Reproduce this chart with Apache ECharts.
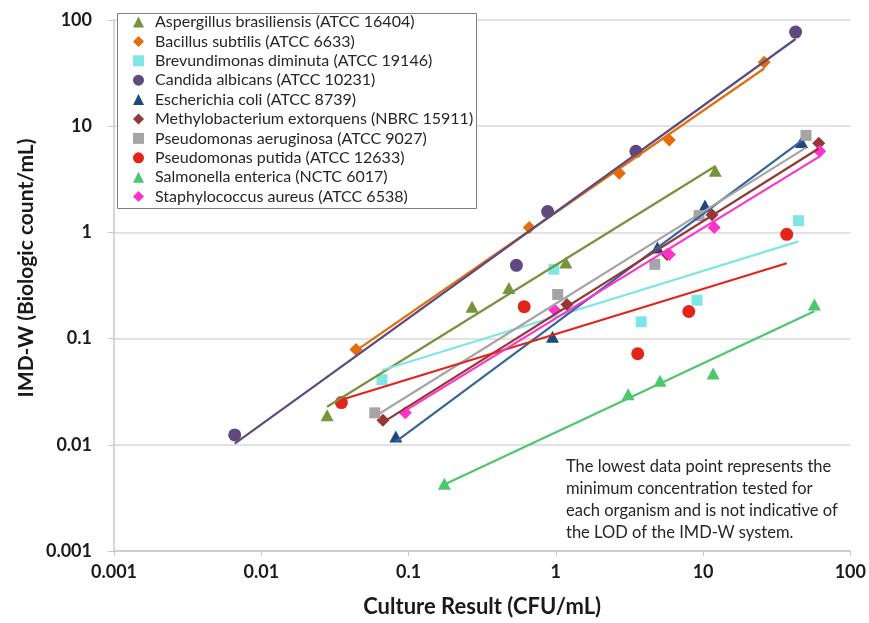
<!DOCTYPE html>
<html lang="en" style="height: 100%">
<head>
  <meta charset="utf-8">
</head>
<body style="height: 100%; margin: 0; background: #fff">
  <div id="container" style="width: 869px; height: 623px"></div>

  <script type="text/javascript" src="https://cdn.jsdelivr.net/npm/echarts@6/dist/echarts.min.js"></script>

  <script type="text/javascript">
    // tick labels for both log axes
    const xTickLabels = ['0.001', '0.01', '0.1', '1', '10', '100'];
    const yTickLabels = ['0.001', '0.01', '0.1', '1', '10', '100'];

    // [culture result CFU/mL, IMD-W biologic count/mL]
    const aspergillus = [[0.028, 0.019], [0.27, 0.2], [0.48, 0.3], [1.17, 0.52], [12.1, 3.8]];
    const bacillus = [[0.044, 0.079], [0.66, 1.11], [2.7, 3.6], [5.9, 7.4], [26, 40]];
    const brevundimonas = [[0.066, 0.041], [0.97, 0.45], [3.8, 0.144], [9.1, 0.23], [44.5, 1.29]];
    const candida = [[0.0066, 0.0124], [0.54, 0.49], [0.88, 1.57], [3.5, 5.8], [42.5, 77]];
    const ecoli = [[0.082, 0.012], [0.95, 0.104], [4.9, 0.72], [10.3, 1.79], [46.6, 7.1]];
    const methylobacterium = [[0.067, 0.017], [1.19, 0.21], [5.7, 0.62], [11.5, 1.47], [61, 6.9]];
    const aeruginosa = [[0.059, 0.02], [1.03, 0.26], [4.7, 0.5], [9.4, 1.44], [50, 8.2]];
    const putida = [[0.035, 0.025], [0.61, 0.2], [3.6, 0.072], [8.0, 0.18], [37, 0.96]];
    const salmonella = [[0.175, 0.0043], [3.1, 0.03], [5.1, 0.04], [11.7, 0.047], [57, 0.21]];
    const staphylococcus = [[0.095, 0.02], [0.98, 0.187], [5.9, 0.62], [11.9, 1.11], [62, 5.8]];

    const noteLines = [
      'The lowest data point represents the',
      'minimum concentration tested for',
      'each organism and is not indicative of',
      'the LOD of the IMD-W system.'
    ];

    const organisms = [
      { name: 'Aspergillus brasiliensis (ATCC 16404)', data: aspergillus, symbol: 'triangle', color: '#77933C', line: '#77933C' },
      { name: 'Bacillus subtilis (ATCC 6633)', data: bacillus, symbol: 'diamond', color: '#E46C0A', line: '#E46C0A' },
      { name: 'Brevundimonas diminuta (ATCC 19146)', data: brevundimonas, symbol: 'rect', color: '#7FE6E6', line: '#7FE6E6' },
      { name: 'Candida albicans (ATCC 10231)', data: candida, symbol: 'circle', color: '#5F4A80', line: '#5F4A80' },
      { name: 'Escherichia coli (ATCC 8739)', data: ecoli, symbol: 'triangle', color: '#1F497D', line: '#3465A0' },
      { name: 'Methylobacterium extorquens (NBRC 15911)', data: methylobacterium, symbol: 'diamond', color: '#953735', line: '#953735' },
      { name: 'Pseudomonas aeruginosa (ATCC 9027)', data: aeruginosa, symbol: 'rect', color: '#A5A5A5', line: '#A5A5A5' },
      { name: 'Pseudomonas putida (ATCC 12633)', data: putida, symbol: 'circle', color: '#E3241B', line: '#E3241B' },
      { name: 'Salmonella enterica (NCTC 6017)', data: salmonella, symbol: 'triangle', color: '#4CC86C', line: '#4CC86C' },
      { name: 'Staphylococcus aureus (ATCC 6538)', data: staphylococcus, symbol: 'diamond', color: '#FF33CC', line: '#FF33CC' }
    ];

    const symbolSizes = { triangle: [13, 12], diamond: 13, rect: 11, circle: 13 };

    // power trendline (least squares in log-log), spanning the data's x range
    function powerTrend(pts) {
      const lx = pts.map(p => Math.log10(p[0]));
      const ly = pts.map(p => Math.log10(p[1]));
      const n = pts.length;
      const mx = lx.reduce((a, b) => a + b, 0) / n;
      const my = ly.reduce((a, b) => a + b, 0) / n;
      let sxy = 0, sxx = 0;
      for (let i = 0; i < n; i++) {
        sxy += (lx[i] - mx) * (ly[i] - my);
        sxx += (lx[i] - mx) * (lx[i] - mx);
      }
      const m = sxy / sxx;
      const b = my - m * mx;
      const x0 = Math.min(...lx), x1 = Math.max(...lx);
      return [[Math.pow(10, x0), Math.pow(10, b + m * x0)], [Math.pow(10, x1), Math.pow(10, b + m * x1)]];
    }

    const font = 'Lato, "Open Sans", sans-serif';

    const series = [];
    organisms.forEach(o => {
      series.push({
        name: o.name,
        type: 'scatter',
        data: o.data,
        symbol: o.symbol,
        symbolSize: symbolSizes[o.symbol],
        itemStyle: { color: o.color, opacity: 1 },
        z: 2,
        silent: true
      });
    });
    organisms.forEach(o => {
      series.push({
        name: o.name + ' trend',
        type: 'line',
        data: powerTrend(o.data),
        showSymbol: false,
        symbol: 'none',
        lineStyle: { color: o.line, width: 2.2 },
        z: 3,
        silent: true
      });
    });

    var dom = document.getElementById('container');
    var myChart = echarts.init(dom, null, { renderer: 'canvas' });

    var option = {
      animation: false,
      backgroundColor: '#ffffff',
      grid: { left: 114, right: 14, top: 20, bottom: 67, containLabel: false },
      xAxis: {
        type: 'log',
        logBase: 10,
        min: 0.001,
        max: 100,
        name: 'Culture Result (CFU/mL)',
        nameLocation: 'middle',
        nameGap: 45,
        nameTextStyle: { fontFamily: font, fontWeight: 'bold', fontSize: 22, color: '#1a1a1a' },
        axisLine: { show: true, lineStyle: { color: '#C8C8C8', width: 1.5 } },
        axisTick: { show: true, length: 5, lineStyle: { color: '#C8C8C8' } },
        splitLine: { show: false },
        axisLabel: {
          margin: 12,
          fontFamily: font, fontWeight: 'bold', fontSize: 18, color: '#1a1a1a',
          formatter: (v, i) => xTickLabels[i]
        }
      },
      yAxis: {
        type: 'log',
        logBase: 10,
        min: 0.001,
        max: 100,
        axisLine: { show: true, lineStyle: { color: '#C8C8C8', width: 1.5 } },
        axisTick: { show: true, length: 6, lineStyle: { color: '#C8C8C8' } },
        splitLine: { show: true, lineStyle: { color: '#D9D9D9', width: 1.5 } },
        axisLabel: {
          margin: 22,
          fontFamily: font, fontWeight: 'bold', fontSize: 18, color: '#1a1a1a',
          formatter: (v, i) => yTickLabels[i]
        }
      },
      legend: {
        data: organisms.map(o => o.name),
        orient: 'vertical',
        left: 133,
        top: 14,
        padding: 0,
        itemWidth: 11,
        itemHeight: 11,
        itemGap: 3.4,
        selectedMode: false,
        z: 6,
        textStyle: { fontFamily: font, fontSize: 16, color: '#262626', lineHeight: 16, padding: [0, 0, 0, 6] }
      },
      graphic: [
        {
          type: 'rect',
          z: 5,
          shape: { x: 117.5, y: 13.5, width: 359, height: 195 },
          style: { fill: '#ffffff', stroke: '#7F7F7F', lineWidth: 1 }
        },
        {
          type: 'text',
          z: 5,
          x: 26,
          y: 268,
          rotation: Math.PI / 2,
          style: {
            text: 'IMD-W (Biologic count/mL)',
            fontFamily: font, fontWeight: 'bold', fontSize: 21, fill: '#1a1a1a',
            align: 'center', verticalAlign: 'middle'
          }
        },
        {
          type: 'text',
          z: 5,
          left: 566,
          top: 456,
          style: {
            text: noteLines.join('\n'),
            fontFamily: font, fontSize: 16.5, fill: '#262626', lineHeight: 22
          }
        }
      ],
      series: series
    };

    myChart.setOption(option);
    window.addEventListener('resize', myChart.resize);
  </script>
</body>
</html>
